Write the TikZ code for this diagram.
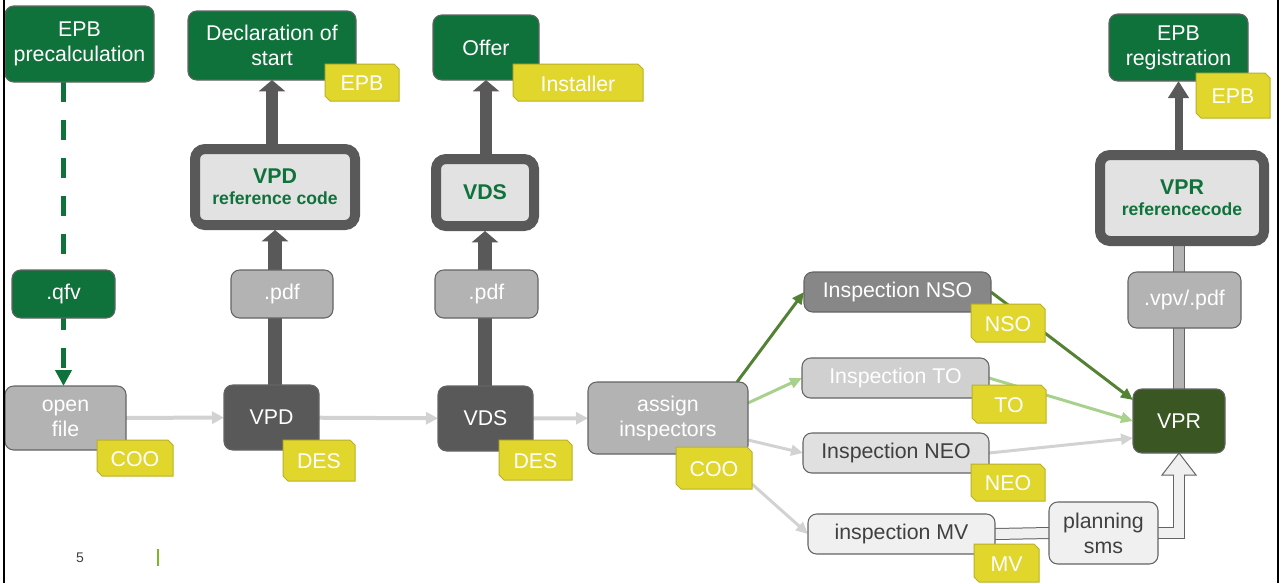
\documentclass[tikz,border=0pt]{standalone}
\usepackage{fontspec}
\setmainfont{Liberation Sans}
\usetikzlibrary{arrows.meta,calc}
\pgfdeclarelayer{bg}
\pgfsetlayers{bg,main}
\definecolor{dkgreen}{RGB}{16,114,59}
\definecolor{vprgreen}{RGB}{58,86,35}
\definecolor{dkgrey}{RGB}{89,89,89}
\definecolor{midgrey}{RGB}{179,179,179}
\definecolor{nsogrey}{RGB}{135,135,135}
\definecolor{togrey}{RGB}{208,208,208}
\definecolor{neogrey}{RGB}{224,224,224}
\definecolor{mvgrey}{RGB}{240,240,240}
\definecolor{refinner}{RGB}{226,226,226}
\definecolor{tagfill}{RGB}{225,214,44}
\definecolor{tagline}{RGB}{185,176,40}
\definecolor{lgarrowc}{RGB}{210,210,210}
\definecolor{garrowc}{RGB}{84,130,53}
\definecolor{lgreenc}{RGB}{169,209,142}
\definecolor{outline}{RGB}{100,100,100}
\definecolor{darktext}{RGB}{64,64,64}
\definecolor{barcol}{RGB}{122,184,40}
\newcommand{\mainfnt}{\fontsize{16}{18.75}\selectfont}
\newcommand{\mybox}[7]{\node[#2, minimum width={(#5-#3)*0.75pt}, minimum height={(#6-#4)*0.75pt}] (#1) at ({(#3+#5)/2},{(#4+#6)/2}) {#7};}
\newcommand{\tagbox}[6]{\filldraw[fill=tagfill, draw=tagline, line width=0.75pt] (#2,#3) -- ({#4-5},#3) -- (#4,{#3+5}) -- (#4,#5) -- ({#2+5},#5) -- (#2,{#5-5}) -- cycle;
\node[inner sep=0pt, outer sep=0pt, font=\mainfnt, text=white, minimum width={(#4-#2)*0.75pt}, minimum height={(#5-#3)*0.75pt}] (#1) at ({(#2+#4)/2},{(#3+#5)/2+1}) {#6};}
\tikzset{
  box/.style={draw=outline, line width=0.8pt, rounded corners=6.5pt, inner sep=0pt, outer sep=0pt, align=center, font=\mainfnt, text=white},
  greenbox/.style={box, fill=dkgreen},
  greybox/.style={box, fill=midgrey},
  darkbox/.style={box, fill=dkgrey},
  nsobox/.style={box, fill=nsogrey},
  tobox/.style={box, fill=togrey},
  neobox/.style={box, fill=neogrey, text=darktext},
  mvbox/.style={box, fill=mvgrey, text=darktext},
  vprbox/.style={box, fill=vprgreen},
  refbox/.style={draw=dkgrey, line width=7.5pt, rounded corners=7.5pt, fill=refinner, inner sep=0pt, outer sep=0pt, align=center, text=dkgreen},
  lgarrow/.style={draw=lgarrowc, line width=3pt, -{Triangle[width=9pt,length=9pt]}},
  lowshaft/.style={draw=dkgrey, line width=11pt, -{Triangle[width=19.5pt,length=8.5pt]}},
  upshaft/.style={draw=dkgrey, line width=9pt, -{Triangle[width=19.5pt,length=8.5pt]}},
  vprshaft/.style={draw=dkgrey, line width=6pt, -{Triangle[width=15pt,length=12.75pt]}},
  lightshaft/.style={draw=midgrey, line width=7.5pt, preaction={draw=outline, line width=9pt}},
  carrow/.style={line width=2.25pt, -{Triangle[width=8pt,length=9pt]}},
  dashgreen/.style={draw=dkgreen, line width=3.75pt, dash pattern=on 15pt off 13.5pt, -{Triangle[width=12pt,length=12pt]}},
  blockshaft/.style={draw=mvgrey, line width=7.5pt, preaction={draw=outline, line width=9pt}},
  blockhead/.style={fill=mvgrey, draw=outline, line width=0.75pt},
}
\begin{document}
\begin{tikzpicture}[x=0.75pt,y=-0.75pt]
\useasboundingbox (0,0) rectangle (1284,583);
% top row
\mybox{epbpre}{greenbox}{5}{6}{154}{82}{EPB\\precalculation}
\mybox{decl}{greenbox}{188}{11}{356}{80}{Declaration of\\start}
\mybox{offer}{greenbox}{433}{15}{539}{80}{Offer}
\mybox{epbreg}{greenbox}{1109}{14}{1248}{81}{EPB\\registration}
% reference boxes
\mybox{vpdref}{refbox}{195}{149}{355}{225}{{\fontsize{16}{16}\selectfont\bfseries VPD}\\[3.5pt]{\fontsize{13.2}{14}\selectfont\bfseries reference code}}
\mybox{vdsref}{refbox}{436}{159}{534}{226}{{\fontsize{16}{16}\selectfont\bfseries VDS}}
\mybox{vprref}{refbox}{1100}{155}{1264}{241}{{\fontsize{16}{16}\selectfont\bfseries VPR}\\[3.5pt]{\fontsize{13.2}{14}\selectfont\bfseries referencecode}}
% file boxes
\mybox{qfv}{greenbox}{12}{270}{115}{318}{.qfv}
\mybox{pdfa}{greybox}{231}{270}{333}{318}{.pdf}
\mybox{pdfb}{greybox}{435}{270}{538}{318}{.pdf}
\mybox{vpv}{greybox}{1128}{272}{1241}{328}{.vpv/.pdf}
% process row
\mybox{openfile}{greybox}{5}{386}{126}{450}{open\\file}
\mybox{vpd}{darkbox}{224}{385}{319}{450}{VPD}
\mybox{vds}{darkbox}{438}{386}{533}{451}{VDS}
\mybox{assign}{greybox}{588}{382}{748}{454}{assign\\inspectors}
\mybox{nso}{nsobox}{804}{272}{991}{312}{Inspection NSO}
\mybox{to}{tobox}{802}{358}{989}{398}{Inspection TO}
\mybox{neo}{neobox}{803}{433}{989}{473}{Inspection NEO}
\mybox{mv}{mvbox}{808}{514}{995}{554}{inspection MV}
\mybox{plan}{mvbox}{1049}{502}{1158}{564}{planning\\sms}
\mybox{vpr}{vprbox}{1133}{389}{1225}{453}{VPR}
% tags
\tagbox{tepba}{325}{64}{399}{101}{EPB}
\tagbox{tinst}{513}{64}{643}{101}{Installer}
\tagbox{tepbb}{1196}{73}{1270}{118}{EPB}
\tagbox{tcooa}{97}{440}{173}{476}{COO}
\tagbox{tdesa}{283}{440}{355}{481}{DES}
\tagbox{tdesb}{499}{440}{572}{480}{DES}
\tagbox{tcoob}{676}{447}{752}{489}{COO}
\tagbox{tnso}{971}{304}{1045}{342}{NSO}
\tagbox{tto}{972}{385}{1046}{423}{TO}
\tagbox{tneo}{971}{464}{1045}{501}{NEO}
\tagbox{tmv}{974}{544}{1039}{582}{MV}
% page number and bar
\node[font=\fontsize{10.5}{12}\selectfont, text=darktext] (pnum) at (80,558) {5};
\coordinate (bara) at (158,549);
\coordinate (barb) at (158,566);
\draw[draw=barcol, line width=1.5pt] (bara) -- (barb);
% frame lines
\coordinate (fla) at (4,0);
\coordinate (flb) at (4,583);
\coordinate (fra) at (1278,0);
\coordinate (frb) at (1278,583);
\draw[black, line width=1.5pt] (fla) -- (flb);
\draw[black, line width=1.5pt] (fra) -- (frb);
% connectors
\begin{pgfonlayer}{bg}
\draw[dashgreen] (epbpre.south -| qfv) -- (openfile.north -| qfv);
\draw[lgarrow] (openfile) -- (vpd);
\draw[lgarrow] (vpd) -- (vds);
\draw[lgarrow] (vds) -- (assign);
\draw[lowshaft] (vpd.north -| vpdref) -- ([yshift=-3.75pt]vpdref.south);
\draw[upshaft] (vpdref.north -| decl) -- (decl.south);
\draw[lowshaft] (vds.north -| vdsref) -- ([yshift=-3.75pt]vdsref.south);
\draw[upshaft] (vdsref.north -| offer) -- (offer.south);
\draw[lightshaft] (vpr.north) -- (vpr.north |- vprref.south);
\draw[vprshaft] (vprref.north -| epbreg) -- (epbreg.south);
\draw[carrow, draw=garrowc] ([xshift=-8.25pt]assign.north east) -- (nso.west);
\draw[carrow, draw=lgreenc] ([yshift=11.25pt]assign.east) -- (to.west);
\draw[carrow, draw=lgarrowc] ([yshift=-16.5pt]assign.east) -- (neo.west);
\draw[carrow, draw=lgarrowc] ([yshift=4.5pt]tcoob.south east) -- (mv.west);
\draw[carrow, draw=garrowc] (nso.east) -- ([yshift=-8.25pt]vpr.north west);
\draw[carrow, draw=lgreenc] (to.east) -- (vpr.west);
\draw[carrow, draw=lgarrowc] (neo.east) -- ([yshift=-12.75pt]vpr.west);
\draw[blockshaft] (mv.east) -- (plan.west);
\draw[blockshaft] (plan.east) -| ($(vpr.south)+(0,21)$);
\draw[blockhead] (vpr.south) -- ++(-17,22) -- ++(11.5,0) -- ++(0,1) -- ++(11,0) -- ++(0,-1) -- ++(11.5,0) -- cycle;
\fill[mvgrey] ($(vpr.south)+(-4.6,21.6)$) rectangle ($(vpr.south)+(4.6,24)$);
\end{pgfonlayer}
\end{tikzpicture}
\end{document}
